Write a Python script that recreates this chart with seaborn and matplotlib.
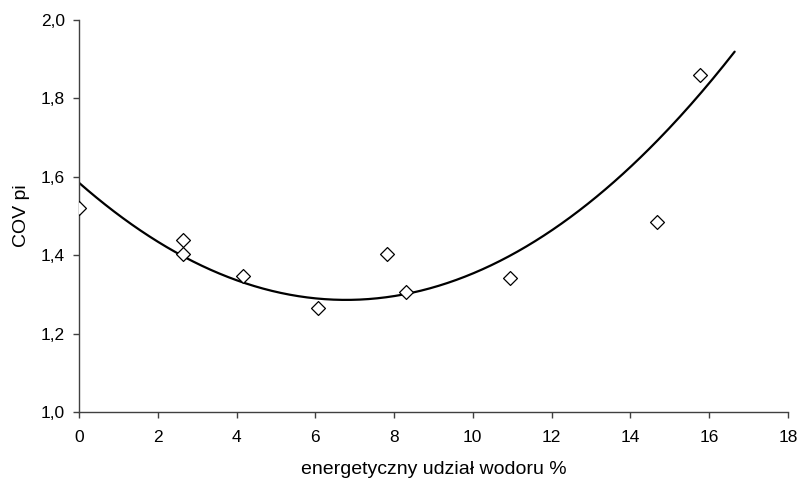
import numpy as np
import pandas as pd
import matplotlib
matplotlib.use("Agg")
import matplotlib.pyplot as plt
from matplotlib.ticker import FuncFormatter, MultipleLocator
import seaborn as sns

# data
x_vals = [0.0, 2.64, 2.64, 4.17, 6.07, 7.82, 8.31, 10.95, 14.69, 15.78]
y_vals = [1.520, 1.439, 1.403, 1.348, 1.266, 1.402, 1.306, 1.342, 1.485, 1.860]
# polynomial trendline coefficients (order 2)
trend_coef = [0.0065, -0.08814, 1.5848]
trend_start = 0.0
trend_end = 16.65
x_label = "energetyczny udział wodoru %"
y_label = "COV pi"

sns.set_style("white")
plt.rcParams['font.family'] = ['Liberation Sans', 'DejaVu Sans']

df = pd.DataFrame({"x": x_vals, "y": y_vals})
xs = np.linspace(trend_start, trend_end, 300)
trend = pd.DataFrame({"x": xs, "y": np.polyval(trend_coef, xs)})

fig = plt.figure(figsize=(7.99, 4.82), dpi=100)
ax = fig.add_axes([0.0989, 0.1452, 0.8871, 0.8133])

sns.lineplot(data=trend, x="x", y="y", ax=ax, color="black", linewidth=1.6)
sns.scatterplot(data=df, x="x", y="y", ax=ax, marker="D", s=50,
                facecolor="white", edgecolor="black", linewidth=0.9, zorder=3)

ax.set_xlim(0, 18)
ax.set_ylim(1.0, 2.0)
ax.xaxis.set_major_locator(MultipleLocator(2))
ax.yaxis.set_major_locator(MultipleLocator(0.2))
ax.yaxis.set_major_formatter(FuncFormatter(lambda v, p: f"{v:.1f}".replace(".", ",")))
ax.xaxis.set_major_formatter(FuncFormatter(lambda v, p: f"{v:.0f}"))

for side in ["top", "right"]:
    ax.spines[side].set_visible(False)
for side in ["left", "bottom"]:
    ax.spines[side].set_color("#404040")
    ax.spines[side].set_linewidth(1.0)

ax.tick_params(axis="both", direction="out", length=4.3, width=1.0, color="#404040",
               labelsize=12.5, labelcolor="black", bottom=True, left=True)
ax.tick_params(axis="y", pad=6.0)
ax.tick_params(axis="x", pad=9.0)
ax.set_xlabel(x_label, fontsize=14, color="black")
ax.set_ylabel(y_label, fontsize=14, color="black")
ax.xaxis.set_label_coords(0.5, -0.126)
ax.yaxis.set_label_coords(-0.069, 0.5)

fig.savefig("out.png", dpi=100)
